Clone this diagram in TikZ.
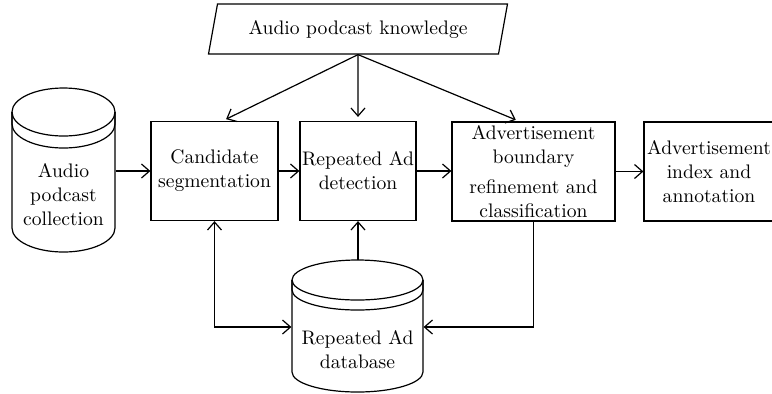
\documentclass[tikz,border=0pt]{standalone}
\usetikzlibrary{shapes.geometric,arrows.meta,positioning}

% drum: left x, right x, top y, bottom y, ellipse height, rim
\newcommand{\drum}[6]{%
  \draw ({(#1+#2)/2},{#3+#5}) ellipse [x radius={(#2-#1)/4*1pt}, y radius={#5/2*1pt}];
  \draw (#1,{#3+#5}) -- ++(0,#6) arc [start angle=180, end angle=360, x radius={(#2-#1)/4*1pt}, y radius={#5/2*1pt}] -- ++(0,-#6);
  \draw (#1,{#3+#5}) -- (#1,{#4-#5}) arc [start angle=180, end angle=360, x radius={(#2-#1)/4*1pt}, y radius={#5/2*1pt}] -- (#2,{#3+#5});
}

\begin{document}
\begin{tikzpicture}[x=0.5pt,y=-0.5pt,
    font=\fontsize{9.8}{12}\selectfont,
    line width=0.6pt,
    >={Straight Barb[length=4pt,width=7pt]},
    block/.style={draw, rectangle, align=center, inner sep=1pt, minimum height=49.5pt},
    dbtext/.style={align=center, inner sep=0pt}]
    \useasboundingbox (0,0) rectangle (772,393);

    \node[draw, trapezium, trapezium left angle=74, trapezium right angle=106,
          trapezium stretches body, minimum width=149.5pt, minimum height=25pt]
          (know) at (358,29) {Audio podcast knowledge};

    \node[block, minimum width=63.5pt] (cand) at (214.5,171) {Candidate\\segmentation};
    \node[block, minimum width=58pt]   (rep)  at (358,171)   {Repeated Ad\\detection};
    \node[block, minimum width=81.5pt] (adv)  at (533.5,171.5) {Advertisement\\boundary\\[3pt]refinement and\\classification};
    \node[block, minimum width=65pt]   (idx)  at (709,171.5) {Advertisement\\index and\\annotation};

    \drum{12}{115}{88}{252}{24}{12}
    \node[dbtext, minimum width=51.5pt] (coll) at (63.5,195) {Audio\\podcast\\collection};

    \drum{292}{423}{260}{392}{20}{10}
    \node[dbtext, minimum width=65.5pt] (db) at (357.5,350) {Repeated Ad\\database};
    \coordinate (dbtop) at (358,260);

    \draw[->] (coll.east |- cand.west) -- (cand.west);
    \draw[->] (cand.east) -- (cand.east -| rep.west);
    \draw[->] (rep.east) -- (rep.east -| adv.west);
    \draw[->] (adv.east) -- (adv.east -| idx.west);

    \draw[->, shorten >=2pt] (know.south) -- ([xshift=4pt]cand.north);
    \draw[->, shorten >=2pt] (know.south) -- (rep.north);
    \draw[->, shorten >=2pt] (know.south) -- ([xshift=-7pt]adv.north);

    \draw[->] (dbtop) -- (dbtop |- rep.south);
    \draw[<->] (cand.south) |- ([yshift=11.5pt]db.west);
    \draw[->] (adv.south) |- ([yshift=11.5pt]db.east);
\end{tikzpicture}
\end{document}
